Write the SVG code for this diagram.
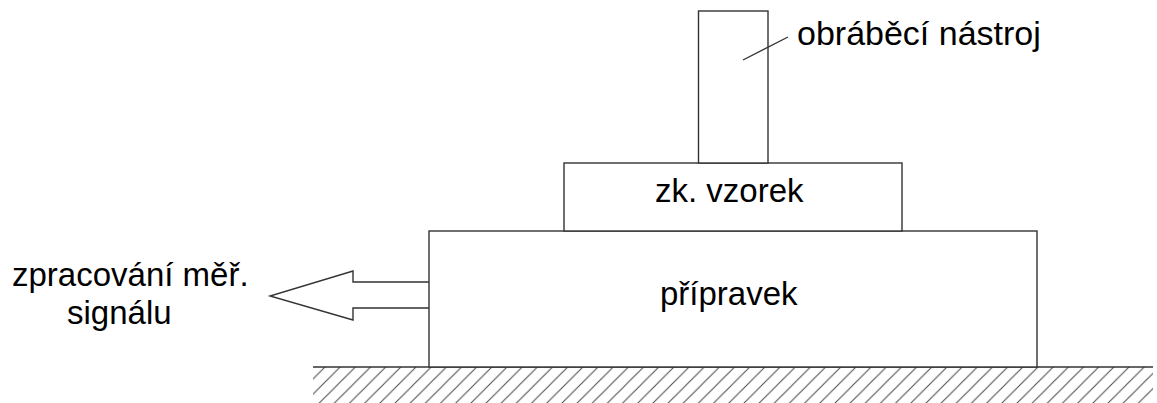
<svg xmlns="http://www.w3.org/2000/svg" width="1157" height="403" viewBox="0 0 1157 403">
<style>
.box{fill:#fff;stroke:#333;stroke-width:1.4}
.ln{fill:none;stroke:#333;stroke-width:1.4}
.t{font-family:"Liberation Sans",Arial,sans-serif;font-size:33px;fill:#000}
</style>
<defs>
<pattern id="hatch" patternUnits="userSpaceOnUse" x="325" y="367" width="15.17" height="15.17">
<path d="M-2,17.17 L17.17,-2 M-2,2 L2,-2 M13.17,17.17 L17.17,13.17" stroke="#444" stroke-width="1"/>
</pattern>
</defs>
<rect width="1157" height="403" fill="#fff"/>
<g id="ground">
<rect x="313" y="367" width="840" height="36" fill="url(#hatch)"/>
<line x1="313" y1="367" x2="1153" y2="367" class="ln"/>
</g>
<g id="fixture">
<rect x="429" y="231" width="608" height="136" class="box"/>
<text x="660" y="305" class="t">přípravek</text>
</g>
<g id="sample">
<rect x="564" y="163" width="338" height="68" class="box"/>
<text x="655" y="202" class="t">zk. vzorek</text>
</g>
<g id="tool">
<rect x="698.5" y="11" width="69.5" height="152" class="box"/>
</g>
<g id="connectors">
<line x1="743" y1="60" x2="788" y2="37" class="ln"/>
<polyline points="429,282 353,282 353,271 270,296 353,320 353,308 429,308" class="ln"/>
</g>
<g id="labels">
<text x="797" y="45" class="t" style="font-size:34px">obráběcí nástroj</text>
<text x="12" y="286" class="t">zpracování měř.</text>
<text x="67" y="323.5" class="t">signálu</text>
</g>
</svg>
